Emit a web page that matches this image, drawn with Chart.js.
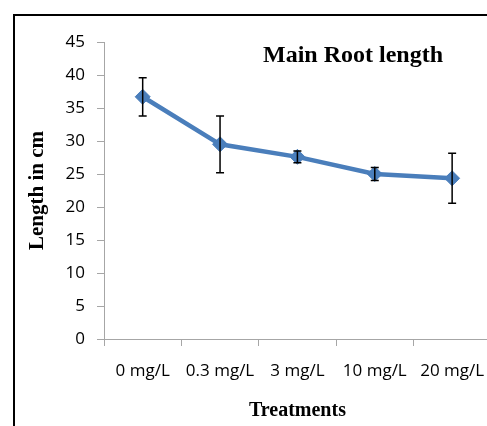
<!DOCTYPE html>
<html>
<head>
<meta charset="utf-8">
<script src="https://cdn.jsdelivr.net/npm/chart.js@4.4.1/dist/chart.umd.min.js"></script>
<style>
  html, body { margin: 0; padding: 0; background: #fff; overflow: hidden; }
  #frame { position: absolute; left: 13px; top: 14px; width: 600px; height: 600px; border: 2px solid #000; }
  #wrap { position: absolute; left: 0; top: 0; }
</style>
</head>
<body>
<div id="frame"></div>
<div id="wrap"><canvas id="rootChart" width="500" height="426"></canvas></div>
<script>
// data
const treatments = ["0 mg/L", "0.3 mg/L", "3 mg/L", "10 mg/L", "20 mg/L"];
const rootLength = [36.7, 29.5, 27.6, 25.0, 24.35];
const rootError = [2.9, 4.3, 0.9, 1.0, 3.8];
const yTicks = [0, 5, 10, 15, 20, 25, 30, 35, 40, 45];

const tickFont = { family: "'Open Sans'", size: 17 };

// error bars, drawn with the chart's own scales
const errorBars = {
  id: "errorBars",
  afterDatasetsDraw(chart) {
    const ctx = chart.ctx;
    const meta = chart.getDatasetMeta(0);
    const y = chart.scales.y;
    ctx.save();
    ctx.strokeStyle = "#000";
    ctx.lineWidth = 1.5;
    meta.data.forEach((pt, i) => {
      const top = y.getPixelForValue(rootLength[i] + rootError[i]);
      const bot = y.getPixelForValue(rootLength[i] - rootError[i]);
      ctx.beginPath();
      ctx.moveTo(pt.x, top); ctx.lineTo(pt.x, bot);
      ctx.moveTo(pt.x - 4, top); ctx.lineTo(pt.x + 4, top);
      ctx.moveTo(pt.x - 4, bot); ctx.lineTo(pt.x + 4, bot);
      ctx.stroke();
    });
    ctx.restore();
  }
};

// title sits inside the plot area
const innerTitle = {
  id: "innerTitle",
  afterDraw(chart) {
    const ctx = chart.ctx;
    ctx.save();
    ctx.font = "bold 24px 'Liberation Serif'";
    ctx.fillStyle = "#000";
    ctx.textAlign = "center";
    ctx.textBaseline = "alphabetic";
    ctx.fillText("Main Root length", 353, 62);
    ctx.restore();
  }
};

new Chart(document.getElementById("rootChart"), {
  type: "line",
  data: {
    labels: treatments,
    datasets: [{
      label: "Main Root length",
      data: rootLength,
      borderColor: "#4a7ebb",
      backgroundColor: "#4a7ebb",
      borderWidth: 4.5,
      pointStyle: "rectRot",
      pointRadius: 7.5,
      pointBorderWidth: 1,
      pointBorderColor: "#4a7ebb",
      tension: 0
    }]
  },
  options: {
    responsive: false,
    animation: false,
    layout: { padding: { top: 42, right: 9, left: 0, bottom: 0 } },
    plugins: { legend: { display: false }, tooltip: { enabled: false } },
    scales: {
      x: {
        offset: true,
        grid: { offset: true, drawOnChartArea: false, drawTicks: true, tickLength: 7, color: "#a6a6a6" },
        border: { color: "#a6a6a6" },
        ticks: { font: tickFont, color: "#000", padding: 15, maxRotation: 0 },
        title: { display: true, text: "Treatments", font: { family: "'Liberation Serif'", size: 20, weight: "bold" }, color: "#000", padding: { top: 0, bottom: 3 } },
        afterFit(scale) { scale.height = 87; }
      },
      y: {
        min: 0,
        max: 45,
        afterBuildTicks(scale) { scale.ticks = yTicks.map(v => ({ value: v })); },
        grid: { drawOnChartArea: false, drawTicks: true, tickLength: 7, color: "#a6a6a6" },
        border: { color: "#a6a6a6" },
        ticks: { font: tickFont, color: "#000", padding: 12 },
        title: { display: true, text: "Length in cm", font: { family: "'Liberation Serif'", size: 21, weight: "bold" }, color: "#000", padding: { top: 25, bottom: 0 } },
        afterFit(scale) { scale.width = 104; }
      }
    }
  },
  plugins: [errorBars, innerTitle]
});
</script>
</body>
</html>
